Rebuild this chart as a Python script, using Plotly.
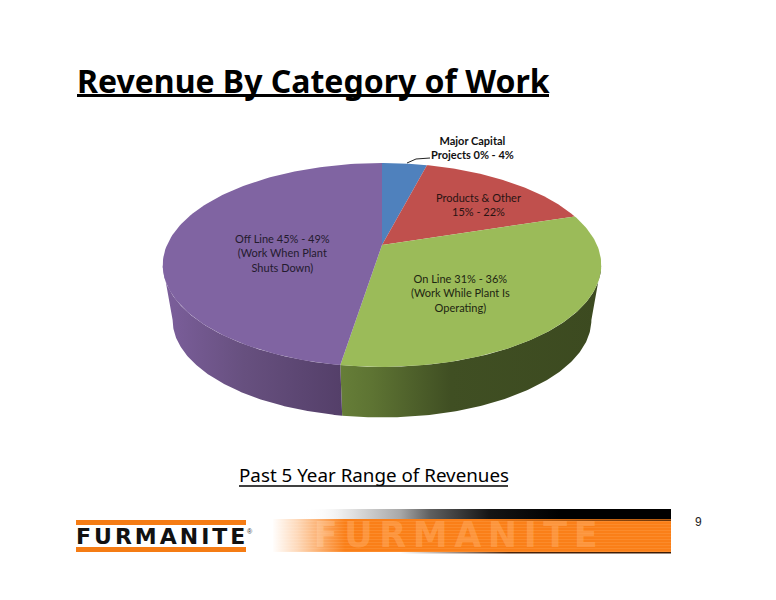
import math
import plotly.graph_objects as go

# ---- data ----
categories = ["Major Capital Projects", "Products & Other", "On Line", "Off Line"]
shares = [4, 16, 32.5, 47.5]
label_texts = [
    "Major Capital<br>Projects 0% - 4%",
    "Products & Other<br>15% - 22%",
    "On Line 31% - 36%<br>(Work While Plant Is<br>Operating)",
    "Off Line 45% - 49%<br>(Work When Plant<br>Shuts Down)",
]
slice_colors = ["#4F81BD", "#C0504D", "#9BBB59", "#8064A2"]
title_text = "Revenue By Category of Work"
subtitle_text = "Past 5 Year Range of Revenues"
brand_text = "FURMANITE"
page_number = "9"

# ---- geometry of the tilted pie, in axis units (the axes span the page) ----
APEX_X, APEX_Y = 382, 245
TILT, RX, RY = 0.196, 215, 98
DEPTH, WALL_SCALE = 56, 0.955
LABEL_POS = [(472, 147.5), (478, 204), (460, 293), (282, 253)]
EXTREME = math.acos(-TILT)  # angle of the widest point of the rim


def rim(theta, drop=0.0, scale=1.0):
    u, v = math.sin(theta), math.cos(theta)
    w = 1 + TILT * v
    return APEX_X + scale * RX * u / w, APEX_Y + drop - scale * RY * v / w


def arc(a0, a1, n=120, drop=0.0, scale=1.0):
    pts = [rim(a0 + (a1 - a0) * i / n, drop, scale) for i in range(n + 1)]
    return [p[0] for p in pts], [p[1] for p in pts]


def solid(xs, ys, color):
    return go.Scatter(x=xs, y=ys, mode="lines", fill="toself", fillcolor=color,
                      line=dict(width=0), hoverinfo="skip", showlegend=False)


def graded(xs, ys, stops, x0, x1):
    return go.Scatter(x=xs, y=ys, mode="lines", fill="toself", line=dict(width=0),
                      fillgradient=dict(type="horizontal", colorscale=stops, start=x0, stop=x1),
                      hoverinfo="skip", showlegend=False)


def wall(a0, a1, stops):
    xt, yt = arc(a0, a1)
    xb, yb = arc(a1, a0, drop=DEPTH, scale=WALL_SCALE)
    xs, ys = xt + xb, yt + yb
    return graded(xs + [xs[0]], ys + [ys[0]], stops, min(xs), max(xs))


def box(x0, x1, y0, y1):
    return [x0, x1, x1, x0, x0], [y0, y0, y1, y1, y0]


total = sum(shares)
edges = [0.0]
for s in shares:
    edges.append(edges[-1] + 2 * math.pi * s / total)

fig = go.Figure()

# side walls: green runs from the right-hand widest point to the slice edge,
# purple from that edge to the left-hand widest point
fig.add_trace(wall(EXTREME, edges[3], [[0, "#667E38"], [0.12, "#5E7433"], [0.42, "#404F23"], [1, "#3C4A20"]]))
fig.add_trace(wall(edges[3], 2 * math.pi - EXTREME, [[0, "#7C5F9C"], [0.45, "#67507F"], [1, "#543F69"]]))

# top faces
for i, color in enumerate(slice_colors):
    xs, ys = arc(edges[i], edges[i + 1])
    fig.add_trace(solid([APEX_X] + xs + [APEX_X], [APEX_Y] + ys + [APEX_Y], color))

# banner: black fade, orange band, stripes, watermark, white fade
bx, by = box(300, 671, 509, 520)
fig.add_trace(graded(bx, by, [[0, "rgba(255,255,255,0)"], [0.16, "#D8D8D8"], [0.27, "#A8A8A8"],
                              [0.35, "#606060"], [0.51, "#151515"], [0.7, "#000000"], [1, "#000000"]], 300, 671))
bx, by = box(273, 671, 519, 552)
fig.add_trace(solid(bx, by, "#FA7F18"))
sx, sy = [], []
for k in range(521, 552, 3):
    rx, ry = box(273, 671, k, k + 1)
    sx += rx + [None]
    sy += ry + [None]
fig.add_trace(go.Scatter(x=sx, y=sy, mode="lines", fill="toself", fillcolor="rgba(255,168,90,0.3)",
                         line=dict(width=0), hoverinfo="skip", showlegend=False))
fig.add_trace(go.Scatter(x=[459], y=[538.5], mode="text",
                         text=[f'<span style="letter-spacing:6.6px">{brand_text}</span>'],
                         textposition="middle center",
                         textfont=dict(family="DejaVu Sans", size=35, color="rgba(255,170,95,0.55)", weight="bold"),
                         hoverinfo="skip", showlegend=False))
bx, by = box(480, 671, 519.5, 521)
fig.add_trace(graded(bx, by, [[0, "rgba(120,60,10,0)"], [0.6, "rgba(110,55,10,0.7)"], [1, "rgba(90,45,8,0.9)"]], 480, 671))
bx, by = box(400, 671, 552, 553.5)
fig.add_trace(graded(bx, by, [[0, "rgba(60,25,5,0)"], [0.4, "#4A2208"], [1, "#3A1A05"]], 400, 671))
bx, by = box(272, 345, 508, 555)
fig.add_trace(graded(bx, by, [[0, "#FFFFFF"], [0.35, "rgba(255,255,255,0.7)"], [1, "rgba(255,255,255,0)"]], 272, 345))

annotations = []


def note(x, y, text, size, family, color="#000000", bold=False, anchor="center"):
    annotations.append(dict(x=x, y=y, xref="x", yref="y", text=text, showarrow=False,
                            xanchor=anchor, yanchor="middle", align="center",
                            font=dict(family=family, size=size, color=color,
                                      weight="bold" if bold else "normal")))


note(75, 80, title_text, 32, "Noto Sans", bold=True, anchor="left")
note(373.5, 475, subtitle_text, 18.8, "Noto Sans")
note(*LABEL_POS[0], label_texts[0], 11, "Lato", color="#111111", bold=True)
for (lx, ly), text, c in zip(LABEL_POS[1:], label_texts[1:], ["#2A1413", "#1E2612", "#241B2E"]):
    note(lx, ly, text, 11, "Lato", color=c)
note(161.5, 536, f'<span style="letter-spacing:3px">{brand_text}</span>', 22, "DejaVu Sans", color="#111111", bold=True)
note(250, 531, "®", 7, "Liberation Sans", color="#333333")
note(698, 522, page_number, 12, "Liberation Sans", color="#222222")

shapes = [
    dict(type="line", x0=77, x1=549, y0=95.5, y1=95.5, line=dict(color="#000000", width=3)),
    dict(type="line", x0=239, x1=508, y0=486, y1=486, line=dict(color="#000000", width=1.3)),
    dict(type="line", x0=407, y0=163, x1=416, y1=159, line=dict(color="#222222", width=1)),
    dict(type="line", x0=416, y0=159, x1=430, y1=158, line=dict(color="#222222", width=1)),
    dict(type="rect", x0=76, x1=246, y0=520, y1=525, fillcolor="#F57C14", line=dict(width=0)),
    dict(type="rect", x0=76, x1=246, y0=547, y1=552, fillcolor="#F57C14", line=dict(width=0)),
]

fig.update_layout(
    width=776, height=600, margin=dict(l=0, r=0, t=0, b=0),
    paper_bgcolor="#FFFFFF", plot_bgcolor="#FFFFFF", showlegend=False,
    xaxis=dict(range=[0, 776], visible=False, fixedrange=True),
    yaxis=dict(range=[600, 0], visible=False, fixedrange=True),
    annotations=annotations, shapes=shapes,
)
fig.write_html("out.html", config={"displayModeBar": False},
               post_script="document.body.style.margin='0';document.documentElement.style.overflow='hidden';")
